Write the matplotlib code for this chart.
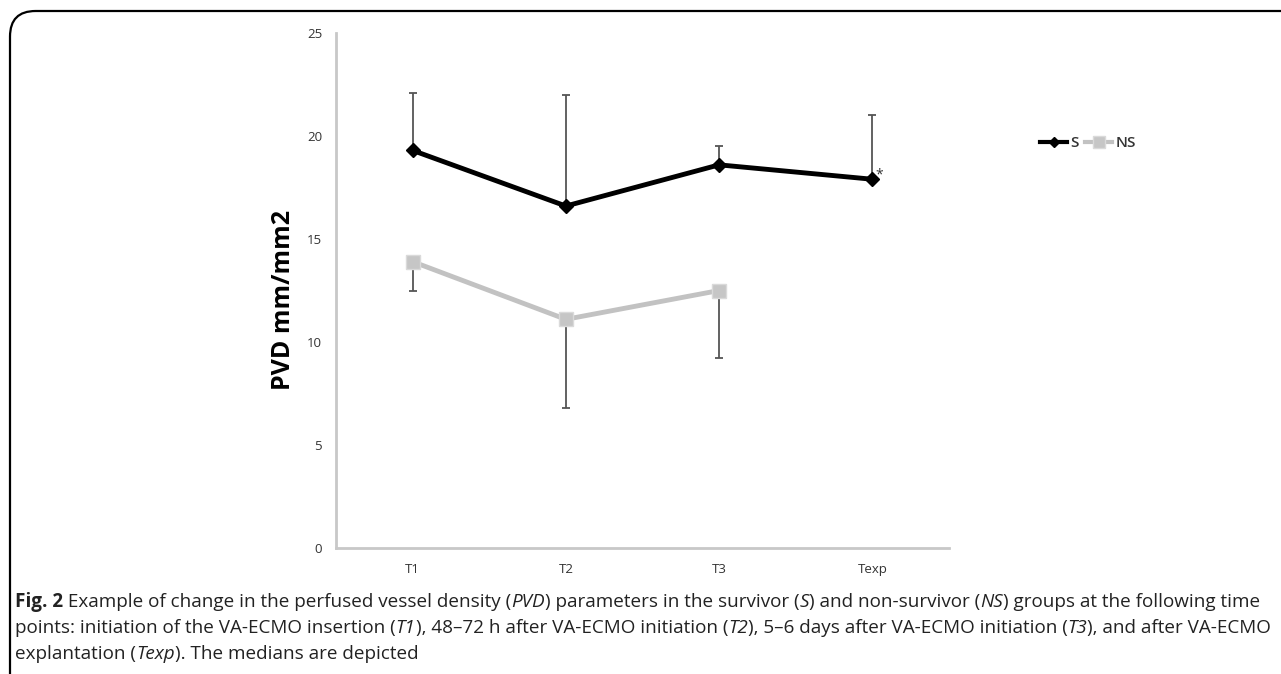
import numpy as np
import matplotlib.pyplot as plt
from matplotlib.patches import FancyBboxPatch
from matplotlib.lines import Line2D

categories = ['T1', 'T2', 'T3', 'Texp']
s_median = [19.3, 16.6, 18.6, 17.9]
s_err_top = [22.1, 22.0, 19.5, 21.0]
ns_median = [13.9, 11.1, 12.5]
ns_err_bottom = [12.5, 6.8, 9.2]
yticks = [0, 5, 10, 15, 20, 25]

caption_lines = [
    [("Fig. 2", "normal", "bold"),
     (" Example of change in the perfused vessel density (", "normal", "normal"),
     ("PVD", "italic", "normal"),
     (") parameters in the survivor (", "normal", "normal"),
     ("S", "italic", "normal"),
     (") and non-survivor (", "normal", "normal"),
     ("NS", "italic", "normal"),
     (") groups at the following time", "normal", "normal")],
    [("points: initiation of the VA-ECMO insertion (", "normal", "normal"),
     ("T1", "italic", "normal"),
     ("), 48\u201372 h after VA-ECMO initiation (", "normal", "normal"),
     ("T2", "italic", "normal"),
     ("), 5\u20136 days after VA-ECMO initiation (", "normal", "normal"),
     ("T3", "italic", "normal"),
     ("), and after VA-ECMO", "normal", "normal")],
    [("explantation (", "normal", "normal"),
     ("Texp", "italic", "normal"),
     ("). The medians are depicted", "normal", "normal")],
]

W, H = 1281, 674
fig = plt.figure(figsize=(W / 100, H / 100), dpi=100)
plt.rcParams['font.family'] = ['Open Sans', 'DejaVu Sans']

# rounded frame (only top/left visible, the rest runs off the picture)
frame = FancyBboxPatch((10 / W, -0.2), 1.2, 1.2 - 11 / H,
                       boxstyle="round,pad=0,rounding_size=0.02",
                       transform=fig.transFigure, fill=False,
                       ec='black', lw=1.6, mutation_aspect=W / H)
fig.patches.append(frame)

ax = fig.add_axes([336 / W, 1 - 548 / H, (949 - 336) / W, (548 - 33) / H])
x = np.arange(len(categories))
s_up = np.array(s_err_top) - np.array(s_median)
ns_down = np.array(ns_median) - np.array(ns_err_bottom)

ax.errorbar(x, s_median, yerr=[np.zeros(len(x)), s_up], fmt='none',
            ecolor='#555555', elinewidth=1.3, capsize=3, capthick=1.3, zorder=2)
ax.errorbar(x[:3], ns_median, yerr=[ns_down, np.zeros(3)], fmt='none',
            ecolor='#555555', elinewidth=1.3, capsize=3, capthick=1.3, zorder=2)
ax.plot(x, s_median, color='black', lw=3.5, marker='D', ms=7, zorder=4)
ax.plot(x[:3], ns_median, color='#c2c2c2', lw=3.5, marker='s', ms=10,
        mfc='#c6c6c6', mec='#dadada', zorder=3)
ax.annotate('*', xy=(3, s_median[3]), xytext=(2, -2), textcoords='offset points',
            fontsize=10, color='#333333', va='bottom')

ax.set_xlim(-0.5, 3.5)
ax.set_ylim(0, 25)
ax.set_xticks(x)
ax.set_xticklabels(categories)
ax.set_yticks(yticks)
for s in ['top', 'right']:
    ax.spines[s].set_visible(False)
for s in ['left', 'bottom']:
    ax.spines[s].set_color('#c8c8c8')
    ax.spines[s].set_linewidth(2)
ax.tick_params(length=0, labelsize=9.5, labelcolor='#333333')
ax.tick_params(axis='y', pad=10)
ax.tick_params(axis='x', pad=11)

fig.text(283 / W, 1 - 300 / H, 'PVD mm/mm2', rotation=90, ha='center', va='center',
         fontsize=18, fontweight='bold', color='black')

handles = [Line2D([], [], color='black', lw=3, marker='D', ms=5.5),
           Line2D([], [], color='#c2c2c2', lw=3, marker='s', ms=8, mfc='#c6c6c6', mec='#dadada')]
fig.legend(handles, ['S', 'NS'], loc='center left', bbox_to_anchor=(1026 / W, 1 - 143 / H),
           ncol=2, frameon=False, handlelength=1.8, handletextpad=0.2,
           columnspacing=0.4, prop={'size': 11, 'weight': 'semibold'}, labelcolor='#333333')

# caption, drawn run by run so the italic parts can sit inside the line
renderer = fig.canvas.get_renderer()


def run_width(txt, style, weight, size):
    t = fig.text(0, 0, 'x' + txt + 'x', fontsize=size, fontstyle=style, fontweight=weight)
    t2 = fig.text(0, 0, 'xx', fontsize=size, fontstyle=style, fontweight=weight)
    w = t.get_window_extent(renderer).width - t2.get_window_extent(renderer).width
    t.remove()
    t2.remove()
    return w


base = 10
w1 = sum(run_width(t, s, wt, base) for t, s, wt in caption_lines[0])
cap_size = base * (1262 - 15) / w1
baselines = [607, 633, 659]
for runs, yb in zip(caption_lines, baselines):
    xp = 15
    for txt, style, weight in runs:
        fig.text(xp / W, 1 - yb / H, txt, fontsize=cap_size, fontstyle=style,
                 fontweight=weight, va='baseline', color='#222222')
        xp += run_width(txt, style, weight, cap_size)

fig.savefig('out.png', dpi=100)
